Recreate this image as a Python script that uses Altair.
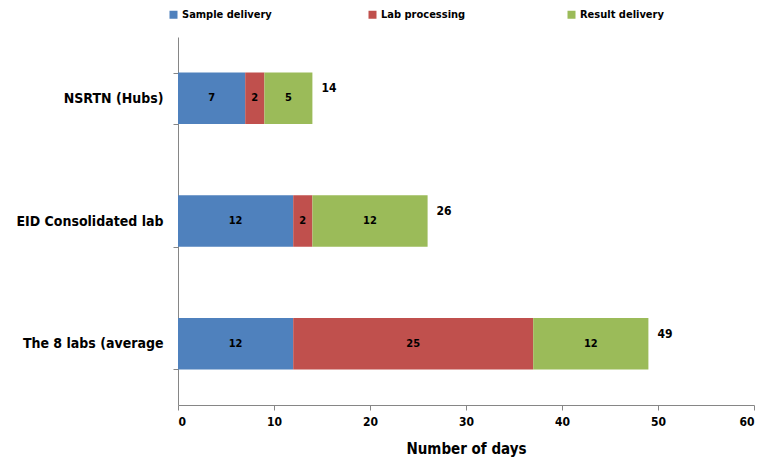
import altair as alt
import pandas as pd

categories = ["NSRTN (Hubs)", "EID Consolidated lab", "The 8 labs (average"]
series = ["Sample delivery", "Lab processing", "Result delivery"]
sample_delivery = [7, 12, 12]
lab_processing = [2, 2, 25]
result_delivery = [5, 12, 12]
totals = [14, 26, 49]
colors = ["#4F81BD", "#C0504D", "#9BBB59"]

rows = []
for i, c in enumerate(categories):
    for j, (s, vals) in enumerate(zip(series, [sample_delivery, lab_processing, result_delivery])):
        rows.append({"category": c, "series": s, "value": vals[i], "order": j})
df = pd.DataFrame(rows)
tot_df = pd.DataFrame({"category": categories, "total": totals})

FONT = "DejaVu Sans Condensed, Liberation Sans, sans-serif"

yenc = alt.Y("category:N", sort=categories, title=None,
             scale=alt.Scale(paddingInner=0.58, paddingOuter=0.29),
             axis=alt.Axis(tickBand="extent", labelFontSize=14, labelFontWeight="bold",
                           labelFont=FONT, labelColor="black", labelPadding=10,
                           domainColor="#868686", tickColor="#868686", tickSize=5))

base = alt.Chart(df).transform_stack(
    stack="value", groupby=["category"], as_=["x0", "x1"],
    sort=[alt.SortField("order", order="ascending")]
).transform_calculate(mid="(datum.x0 + datum.x1) / 2")

bars = base.mark_bar().encode(
    x=alt.X("x0:Q", title="Number of days",
            scale=alt.Scale(domain=[0, 60]),
            axis=alt.Axis(values=[0, 10, 20, 30, 40, 50, 60], grid=False,
                          labelFontSize=12, labelFontWeight="bold", labelFont=FONT,
                          labelColor="black", labelPadding=6,
                          titleFontSize=15, titleFontWeight="bold", titleFont=FONT,
                          titleColor="black", titlePadding=14,
                          domainColor="#868686", tickColor="#868686", tickSize=5)),
    x2="x1:Q",
    y=yenc,
    color=alt.Color("series:N", sort=series,
                    scale=alt.Scale(domain=series, range=colors),
                    legend=alt.Legend(title=None, orient="none", direction="horizontal",
                                      legendX=-10, legendY=-28, columns=3,
                                      gridAlign="all",
                                      columnPadding=95, symbolType="square",
                                      symbolSize=64, symbolStrokeWidth=0,
                                      labelFontSize=11, labelFontWeight="bold",
                                      labelFont=FONT, labelColor="black",
                                      labelOffset=3)),
)

seg_text = base.mark_text(fontSize=11, fontWeight="bold", font=FONT, color="black").encode(
    x="mid:Q", y=alt.Y("category:N", sort=categories), text="value:Q")

tot_text = alt.Chart(tot_df).mark_text(fontSize=12, fontWeight="bold", font=FONT,
                                       color="black", align="left", dx=9, dy=-10).encode(
    x="total:Q", y=alt.Y("category:N", sort=categories), text="total:Q")

chart = alt.layer(bars, seg_text, tot_text).properties(
    width=576, height=368,
    autosize=alt.AutoSizeParams(type="none"),
    padding={"left": 170, "top": 29, "right": 3, "bottom": 60}
).configure(background="white").configure_view(strokeWidth=0)

chart.save("out.html", embed_options={"renderer": "svg", "actions": False})
